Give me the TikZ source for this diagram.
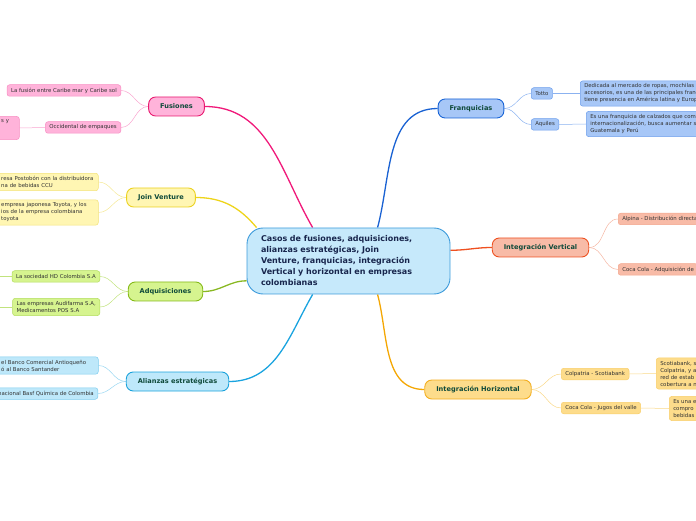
\documentclass[tikz,border=0pt]{standalone}
\usepackage{fontspec}
\setmainfont{DejaVu Sans}
\usepackage{xcolor}
\usetikzlibrary{backgrounds}
\definecolor{centroborde}{HTML}{3D9BDB}
\definecolor{centrofondo}{HTML}{C6E9FB}
\definecolor{centrotexto}{HTML}{18264D}
\definecolor{ramatexto}{HTML}{0F4A3A}
\definecolor{subtexto}{HTML}{333333}
\definecolor{rosa}{HTML}{FFB3DA}
\definecolor{rosaborde}{HTML}{E8196F}
\definecolor{rosahoja}{HTML}{F78FC3}
\definecolor{rosalinea}{HTML}{F0197A}
\definecolor{azul}{HTML}{A7C7F7}
\definecolor{azulborde}{HTML}{1763D6}
\definecolor{azulhoja}{HTML}{6E9FEC}
\definecolor{azullinea}{HTML}{1A62D3}
\definecolor{amarillo}{HTML}{FFF6B3}
\definecolor{amarilloborde}{HTML}{EBD11E}
\definecolor{amarillohoja}{HTML}{F3E27A}
\definecolor{amarillolinea}{HTML}{EED41A}
\definecolor{salmon}{HTML}{F8BBA7}
\definecolor{salmonborde}{HTML}{EE5222}
\definecolor{salmonhoja}{HTML}{F3A58C}
\definecolor{salmonlinea}{HTML}{EF5020}
\definecolor{verde}{HTML}{D6F48F}
\definecolor{verdeborde}{HTML}{86BA1A}
\definecolor{verdehoja}{HTML}{B2DC5C}
\definecolor{verdelinea}{HTML}{89B822}
\definecolor{celeste}{HTML}{BEE8FA}
\definecolor{celesteborde}{HTML}{1CA3DC}
\definecolor{celestehoja}{HTML}{7ECCEE}
\definecolor{celestelinea}{HTML}{19A3DF}
\definecolor{naranja}{HTML}{FDDC8B}
\definecolor{naranjaborde}{HTML}{F3AE1E}
\definecolor{naranjahoja}{HTML}{F8CE6A}
\definecolor{naranjalinea}{HTML}{F4A704}
\begin{document}
\begin{tikzpicture}[x=1pt, y=1pt,
      every node/.style={align=left, text=subtexto, font=\fontsize{5.4}{7}\selectfont},
      centro/.style={draw=centroborde, fill=centrofondo, line width=0.9pt, rounded corners=16pt,
        minimum width=203pt, minimum height=66pt, text width=175pt, text=centrotexto,
        font=\bfseries\fontsize{8}{11}\selectfont},
      rama/.style 2 args={draw=#1, fill=#2, line width=0.9pt, rounded corners=7pt,
        minimum height=19pt, inner xsep=11.5pt, text=ramatexto,
        font=\bfseries\fontsize{6.6}{7.5}\selectfont},
      hoja/.style 2 args={draw=#1, fill=#2, line width=0.5pt, rounded corners=2.5pt,
        minimum height=11.5pt, inner xsep=4pt, inner ysep=3pt},
      corte/.style={anchor=west, text width=93pt},
      enlace/.style={draw=#1, line width=1.3pt},
      ramita/.style={draw=#1!80, line width=0.5pt}
    ]
    \useasboundingbox (0,0) rectangle (696,520);
    \clip (0,0) rectangle (696,520);

    \node[centro] (cen) at (348.5,259) {Casos de fusiones, adquisiciones,\\alianzas estratégicas, Join\\Venture, franquicias, integración\\Vertical y horizontal en empresas\\colombianas};

    \node[rama={rosaborde}{rosa}] (fus) at (176.5,413.5) {Fusiones};
    \node[rama={azulborde}{azul}] (fra) at (471,411.5) {Franquicias};
    \node[rama={amarilloborde}{amarillo}] (jv) at (161,322.5) {Join Venture};
    \node[rama={salmonborde}{salmon}] (iv) at (540.5,272.5) {Integración Vertical};
    \node[rama={verdeborde}{verde}] (adq) at (165.5,228.5) {Adquisiciones};
    \node[rama={celesteborde}{celeste}] (ali) at (177.5,138.5) {Alianzas estratégicas};
    \node[rama={naranjaborde}{naranja}] (ih) at (478,130.5) {Integración Horizontal};

    \node[hoja={rosahoja}{rosa}, anchor=east] (fus1) at (121,429.5) {La fusión entre Caribe mar y Caribe sol};
    \node[hoja={rosahoja}{rosa}, anchor=east] (fus2) at (121,392.5) {Occidental de empaques};
    \node[hoja={rosahoja}{rosa}, anchor=west, text width=14pt] (fus3) at (-3,392) {s y\\\mbox{}\\\mbox{}};

    \node[hoja={amarillohoja}{amarillo}, corte] (jv1) at (-3,338) {resa Postobón con la distribuidora\\na de bebidas CCU};
    \node[hoja={amarillohoja}{amarillo}, corte] (jv2) at (-3,307.5) {empresa japonesa Toyota, y los\\ios de la empresa colombiana\\toyota};

    \node[hoja={verdehoja}{verde}, anchor=east] (adq1) at (100,243.5) {La sociedad HD Colombia S.A};
    \node[hoja={verdehoja}{verde}, anchor=east] (adq2) at (100,213) {Las empresas Audifarma S.A,\\Medicamentos POS S.A};
    \coordinate (adq1f) at (-5,243.5);
    \coordinate (adq2f) at (-5,213);

    \node[hoja={celestehoja}{celeste}, corte] (ali1) at (-3,154.5) {el Banco Comercial Antioqueño\\ó al Banco Santander};
    \node[hoja={celestehoja}{celeste}, anchor=east] (ali2) at (98,126.5) {nacional Basf Química de Colombia};

    \node[hoja={azulhoja}{azul}, anchor=west] (fra1) at (531,426.5) {Totto};
    \node[hoja={azulhoja}{azul}, anchor=west] (fra2) at (531,395.5) {Aquiles};
    \node[hoja={azulhoja}{azul}, anchor=west] (fra1a) at (580,426.5) {Dedicada al mercado de ropas, mochilas y\\accesorios, es una de las principales franquicias\\tiene presencia en América latina y Europa};
    \node[hoja={azulhoja}{azul}, anchor=west] (fra2a) at (586,396) {Es una franquicia de calzados que com\\internacionalización, busca aumentar s\\Guatemala y Perú};

    \node[hoja={salmonhoja}{salmon}, anchor=west] (iv1) at (618,301) {Alpina - Distribución directa};
    \node[hoja={salmonhoja}{salmon}, anchor=west] (iv2) at (618,250.5) {Coca Cola - Adquisición de};

    \node[hoja={naranjahoja}{naranja}, anchor=west] (ih1) at (561,146) {Colpatria - Scotiabank};
    \node[hoja={naranjahoja}{naranja}, anchor=west] (ih2) at (561,112) {Coca Cola - Jugos del valle};
    \node[hoja={naranjahoja}{naranja}, anchor=west] (ih1a) at (656,146.5) {Scotiabank, s\\Colpatria, y a\\red de estab\\cobertura a n};
    \node[hoja={naranjahoja}{naranja}, anchor=west] (ih2a) at (669,111.5) {Es una e\\compro\\bebidas};

    \begin{scope}[on background layer]
      \draw[enlace=rosalinea] (cen.137) to[out=120,in=0] (fus.east);
      \draw[enlace=azullinea] (cen.49) to[out=75,in=180] (fra.west);
      \draw[enlace=amarillolinea] (cen.160) to[out=130,in=0] (jv.east);
      \draw[enlace=salmonlinea] (cen.6) to[out=0,in=180] (iv.west);
      \draw[enlace=verdelinea] (cen.191) to[out=180,in=0] (adq.east);
      \draw[enlace=celestelinea] (cen.223) to[out=-120,in=0] (ali.east);
      \draw[enlace=naranjalinea] (cen.311) to[out=-75,in=180] (ih.west);

      \draw[ramita=rosahoja] (fus.west) to[out=180,in=0] (fus1.east);
      \draw[ramita=rosahoja] (fus.west) to[out=180,in=0] (fus2.east);
      \draw[ramita=rosahoja] (fus2.west) -- (fus3.east);
      \draw[ramita=amarillohoja] (jv.west) to[out=180,in=0] (jv1.east);
      \draw[ramita=amarillohoja] (jv.west) to[out=180,in=0] (jv2.east);
      \draw[ramita=verdehoja] (adq.west) to[out=180,in=0] (adq1.east);
      \draw[ramita=verdehoja] (adq.west) to[out=180,in=0] (adq2.east);
      \draw[ramita=verdehoja] (adq1.west) -- (adq1f);
      \draw[ramita=verdehoja] (adq2.west) -- (adq2f);
      \draw[ramita=celestehoja] (ali.west) to[out=180,in=0] (ali1.east);
      \draw[ramita=celestehoja] (ali.west) to[out=180,in=0] (ali2.east);
      \draw[ramita=azulhoja] (fra.east) to[out=0,in=180] (fra1.west);
      \draw[ramita=azulhoja] (fra.east) to[out=0,in=180] (fra2.west);
      \draw[ramita=azulhoja] (fra1.east) -- (fra1a.west);
      \draw[ramita=azulhoja] (fra2.east) -- (fra2a.west);
      \draw[ramita=salmonhoja] (iv.east) to[out=0,in=180] (iv1.west);
      \draw[ramita=salmonhoja] (iv.east) to[out=0,in=180] (iv2.west);
      \draw[ramita=naranjahoja] (ih.east) to[out=0,in=180] (ih1.west);
      \draw[ramita=naranjahoja] (ih.east) to[out=0,in=180] (ih2.west);
      \draw[ramita=naranjahoja] (ih1.east) -- (ih1a.west);
      \draw[ramita=naranjahoja] (ih2.east) -- (ih2a.west);
    \end{scope}
\end{tikzpicture}
\end{document}
